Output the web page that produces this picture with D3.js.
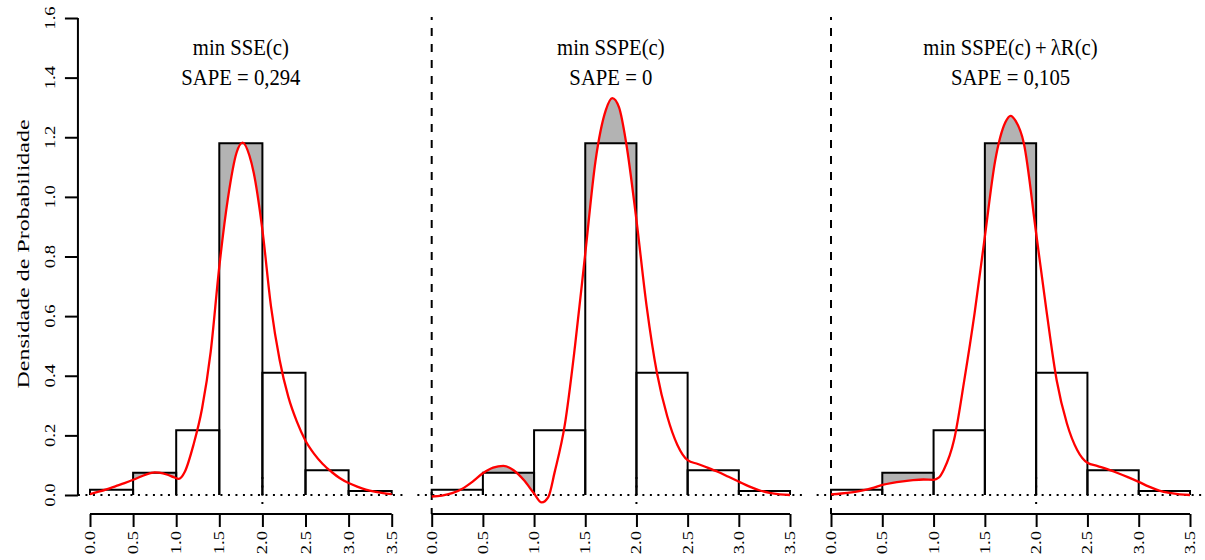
<!DOCTYPE html>
<html>
<head>
<meta charset="utf-8">
<script src="https://cdn.jsdelivr.net/npm/d3@7"></script>
<style>
  html, body { margin: 0; padding: 0; background: #ffffff; }
  svg { display: block; }
  text { font-family: "Liberation Serif", "Times New Roman", serif; fill: #000; }
</style>
</head>
<body>
<svg id="chart" width="1205" height="560"></svg>
<script>
// ---------------- data ----------------
const binEdges = [0, 0.5, 1.0, 1.5, 2.0, 2.5, 3.0, 3.5];
const histDensity = [0.018, 0.075, 0.217, 1.18, 0.41, 0.083, 0.013];
const shadedBins = [1, 3];

const curveSSE = [
  [0.0,0.003],[0.1,0.011],[0.2,0.020],[0.3,0.030],[0.4,0.040],[0.5,0.051],[0.6,0.063],
  [0.7,0.073],[0.75,0.076],[0.8,0.075],[0.9,0.068],[0.97,0.060],[1.03,0.054],[1.1,0.078],
  [1.2,0.168],[1.3,0.29],[1.4,0.48],[1.5,0.766],[1.6,0.995],[1.7,1.148],[1.77,1.182],
  [1.85,1.138],[1.9,1.08],[2.0,0.889],[2.1,0.632],[2.2,0.453],[2.3,0.33],[2.4,0.246],
  [2.5,0.182],[2.6,0.138],[2.7,0.104],[2.8,0.078],[2.9,0.056],[3.0,0.040],[3.1,0.028],
  [3.2,0.018],[3.3,0.011],[3.4,0.006],[3.5,0.003]
];
const curveSSPE = [
  [0.0,-0.005],[0.1,-0.002],[0.2,0.006],[0.3,0.021],[0.4,0.045],[0.5,0.073],[0.6,0.092],
  [0.7,0.098],[0.8,0.083],[0.9,0.050],[1.0,0.005],[1.074,-0.025],[1.14,-0.006],[1.2,0.075],
  [1.3,0.235],[1.4,0.50],[1.5,0.81],[1.6,1.12],[1.7,1.29],[1.764,1.331],[1.83,1.30],
  [1.9,1.18],[2.0,0.922],[2.1,0.632],[2.2,0.41],[2.3,0.265],[2.4,0.168],[2.5,0.117],
  [2.6,0.104],[2.7,0.091],[2.8,0.077],[2.9,0.061],[3.0,0.045],[3.1,0.029],[3.2,0.016],
  [3.3,0.007],[3.4,0.002],[3.5,0.0]
];
const curveReg = [
  [0.0,0.002],[0.1,0.005],[0.2,0.009],[0.3,0.015],[0.4,0.023],[0.5,0.034],[0.6,0.041],
  [0.7,0.046],[0.8,0.050],[0.9,0.052],[1.0,0.051],[1.05,0.058],[1.1,0.085],[1.2,0.185],
  [1.3,0.386],[1.4,0.61],[1.5,0.867],[1.6,1.12],[1.7,1.25],[1.751,1.272],[1.8,1.255],
  [1.88,1.18],[2.0,0.878],[2.1,0.62],[2.2,0.385],[2.3,0.24],[2.4,0.151],[2.5,0.108],
  [2.6,0.097],[2.7,0.086],[2.8,0.073],[2.9,0.059],[3.0,0.044],[3.1,0.028],[3.2,0.015],
  [3.3,0.007],[3.4,0.002],[3.5,0.0]
];
const curves = [curveSSE, curveSSPE, curveReg];
const titleLines1 = ["min SSE(c)", "min SSPE(c)", "min SSPE(c)\u2009+\u2009\u03BBR(c)"];
const sapeValues = ["0,294", "0", "0,105"];
const yTicks = [0, 0.2, 0.4, 0.6, 0.8, 1.0, 1.2, 1.4, 1.6];
const xTicks = [0, 0.5, 1.0, 1.5, 2.0, 2.5, 3.0, 3.5];
const yLabel = "Densidade de Probabilidade";

// ---------------- layout ----------------
const panelRanges = [[90, 391.7], [431.7, 790], [831, 1190]];
const yRange = [495, 18];
const xAxisY = 514;
const sx = 0.74;   // horizontal squeeze of rotated glyphs
const tsx = 0.9;   // horizontal squeeze of title glyphs

const svg = d3.select("#chart");
svg.append("rect").attr("width", 1205).attr("height", 560).attr("fill", "#fff");
const defs = svg.append("defs");

const y = d3.scaleLinear().domain([0, 1.6]).range(yRange);
const fmt = d3.format(".1f");

panelRanges.forEach((rng, i) => {
  const x = d3.scaleLinear().domain([0, 3.5]).range(rng);
  const g = svg.append("g");
  const left = x(-0.14), right = x(3.64);
  const data = curves[i];

  // shaded differences in selected bins
  shadedBins.forEach(b => {
    const id = `clip-${i}-${b}`;
    defs.append("clipPath").attr("id", id)
      .append("rect")
      .attr("x", x(binEdges[b])).attr("y", 0)
      .attr("width", x(binEdges[b + 1]) - x(binEdges[b])).attr("height", 560);
    const area = d3.area()
      .x(d => x(d[0]))
      .y0(y(histDensity[b]))
      .y1(d => y(d[1]))
      .curve(d3.curveMonotoneX);
    g.append("path").attr("d", area(data))
      .attr("fill", "#b3b3b3").attr("stroke", "none")
      .attr("clip-path", `url(#${id})`);
  });

  // zero dotted line
  g.append("line")
    .attr("x1", left).attr("x2", right)
    .attr("y1", y(0)).attr("y2", y(0))
    .attr("stroke", "#000").attr("stroke-width", 2)
    .attr("stroke-dasharray", "2,5.5");

  // vertical dotted marker at x = 2
  g.append("line")
    .attr("x1", x(2)).attr("x2", x(2))
    .attr("y1", y(0.06)).attr("y2", y(-0.05))
    .attr("stroke", "#000").attr("stroke-width", 2)
    .attr("stroke-dasharray", "2,6.3");

  // dashed vertical line at x = 0 (panels 2,3)
  if (i > 0) {
    g.append("line")
      .attr("x1", x(0)).attr("x2", x(0))
      .attr("y1", 17).attr("y2", xAxisY)
      .attr("stroke", "#000").attr("stroke-width", 2)
      .attr("stroke-dasharray", "8,8").attr("stroke-dashoffset", 5);
  }

  // histogram outline
  histDensity.forEach((h, b) => {
    const x0 = x(binEdges[b]), x1 = x(binEdges[b + 1]);
    g.append("path")
      .attr("d", `M${x0},${y(0)}V${y(h)}H${x1}V${y(0)}`)
      .attr("fill", "none").attr("stroke", "#000").attr("stroke-width", 2);
  });

  // red curve
  const line = d3.line().x(d => x(d[0])).y(d => y(d[1])).curve(d3.curveMonotoneX);
  g.append("path").attr("d", line(data))
    .attr("fill", "none").attr("stroke", "#ff0000").attr("stroke-width", 2.3);

  // x axis
  const xAxis = d3.axisBottom(x).tickValues(xTicks).tickSize(13).tickFormat(() => "");
  const ax = g.append("g").attr("transform", `translate(0,${xAxisY})`).call(xAxis);
  ax.select(".domain").attr("d", `M${x(0)},0H${x(3.5)}`).attr("stroke-width", 2);
  ax.selectAll(".tick line").attr("stroke-width", 2);
  xTicks.forEach(t => {
    g.append("text")
      .attr("transform", `translate(${x(t) + 5},531) scale(${sx},1) rotate(-90)`)
      .attr("text-anchor", "end")
      .attr("font-size", 18.7)
      .text(fmt(t));
  });

  // titles
  const cx = (x(0) + x(3.5)) / 2;
  g.append("text")
    .attr("transform", `translate(${cx},55) scale(${tsx},1)`)
    .attr("text-anchor", "middle").attr("font-size", 23)
    .text(titleLines1[i]);
  g.append("text")
    .attr("transform", `translate(${cx},85) scale(${tsx},1)`)
    .attr("text-anchor", "middle").attr("font-size", 23)
    .text(`SAPE = ${sapeValues[i]}`);

  // y axis (first panel only)
  if (i === 0) {
    const yAxis = d3.axisLeft(y).tickValues(yTicks).tickSize(13).tickFormat(() => "");
    const ay = g.append("g").attr("transform", `translate(${left},0)`).call(yAxis);
    ay.select(".domain").attr("d", `M0,${y(0)}V${y(1.6)}`).attr("stroke-width", 2);
    ay.selectAll(".tick line").attr("stroke-width", 2);
    yTicks.forEach(t => {
      g.append("text")
        .attr("transform", `translate(55,${y(t)}) scale(${sx},1) rotate(-90)`)
        .attr("text-anchor", "middle")
        .attr("font-size", 18.7)
        .text(fmt(t));
    });
    g.append("text")
      .attr("transform", `translate(29,254) scale(${sx},1) rotate(-90)`)
      .attr("text-anchor", "middle")
      .attr("font-size", 24)
      .text(yLabel);
  }
});
</script>
</body>
</html>
